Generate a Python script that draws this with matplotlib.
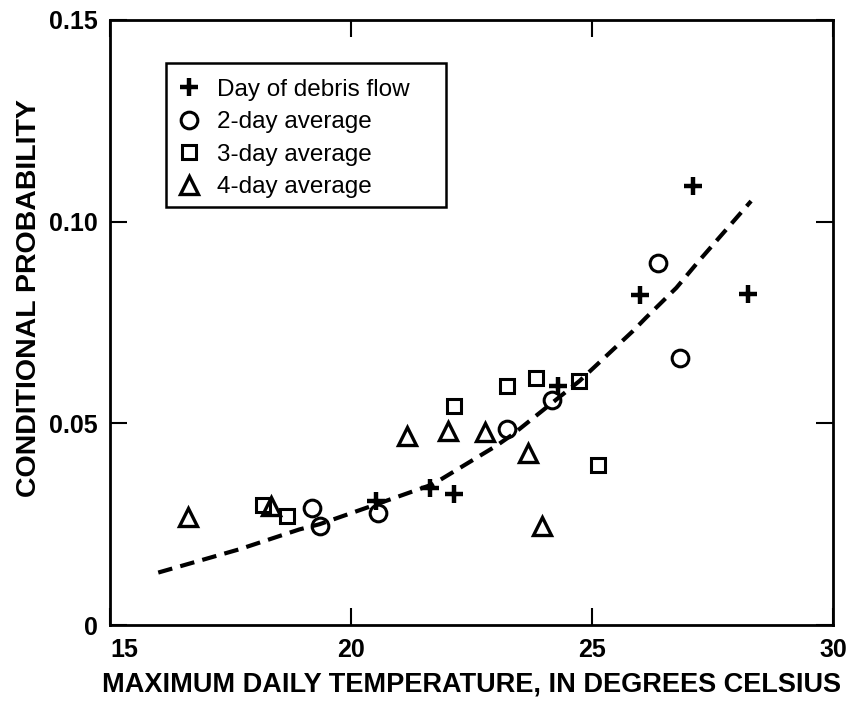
import matplotlib
matplotlib.use('Agg')
import matplotlib.pyplot as plt
from matplotlib.patches import Rectangle

# values
day_x = [20.52, 21.63, 22.13, 24.30, 26.00, 27.09, 28.23]
day_y = [0.0307, 0.0340, 0.0326, 0.0593, 0.0818, 0.1089, 0.0820]

avg2_x = [19.19, 19.36, 20.56, 23.23, 24.17, 26.36, 26.82]
avg2_y = [0.0289, 0.0245, 0.0278, 0.0485, 0.0557, 0.0898, 0.0661]

avg3_x = [18.17, 18.68, 22.14, 23.23, 23.84, 24.74, 25.12]
avg3_y = [0.0298, 0.0270, 0.0544, 0.0593, 0.0612, 0.0605, 0.0397]

avg4_x = [16.61, 18.34, 21.16, 22.02, 22.77, 23.67, 23.97]
avg4_y = [0.0268, 0.0295, 0.0469, 0.0481, 0.0479, 0.0427, 0.0245]

curve_x = [16.00, 17.69, 18.93, 19.35, 20.52, 21.70, 23.01, 23.36, 24.74,
           25.85, 26.12, 26.75, 27.22, 28.30]
curve_y = [0.0130, 0.0188, 0.0237, 0.0250, 0.0299, 0.0349, 0.0444, 0.0473,
           0.0605, 0.0729, 0.0762, 0.0836, 0.0903, 0.1051]

x_ticks = [15, 20, 25, 30]
y_ticks = [0, 0.05, 0.10, 0.15]
y_ticklabels = ['0', '0.05', '0.10', '0.15']

plt.rcParams['font.family'] = ['Liberation Sans', 'DejaVu Sans']

fig = plt.figure(figsize=(8.47, 7.01), dpi=100)
ax = fig.add_axes([0.1299, 0.1084, 0.8536, 0.8631])

ax.plot(curve_x, curve_y, color='black', lw=3, dashes=(3.5, 2.0),
        zorder=1)

ax.plot(day_x, day_y, ls='none', marker='+', ms=13, mew=3.2,
        color='black', label='Day of debris flow')
ax.plot(avg2_x, avg2_y, ls='none', marker='o', ms=12, mew=2.2,
        mfc='none', mec='black', label='2-day average')
ax.plot(avg3_x, avg3_y, ls='none', marker='s', ms=10, mew=2.2,
        mfc='none', mec='black', label='3-day average')
ax.plot(avg4_x, avg4_y, ls='none', marker='^', ms=12.5, mew=2.4,
        mfc='none', mec='black', label='4-day average')

ax.set_xlim(15, 30)
ax.set_ylim(0, 0.15)
ax.set_xticks(x_ticks)
ax.set_yticks(y_ticks)
ax.set_yticklabels(y_ticklabels)

ax.tick_params(direction='in', length=12, width=1.5, top=True, right=True,
               labelsize=18, pad=9)
for lbl in ax.get_xticklabels() + ax.get_yticklabels():
    lbl.set_fontweight('bold')
# first x label sits a little right of its tick, as in the original
ax.get_xticklabels()[0].set_horizontalalignment('left')

for sp in ax.spines.values():
    sp.set_linewidth(2)

ax.set_xlabel('MAXIMUM DAILY TEMPERATURE, IN DEGREES CELSIUS',
              fontsize=19.5, fontweight='bold', labelpad=7)
ax.set_ylabel('CONDITIONAL PROBABILITY', fontsize=20.5, fontweight='bold')
ax.yaxis.set_label_coords(-0.094, 0.54)

# legend frame drawn separately so it keeps the wide right margin
ax.add_patch(Rectangle((0.0775, 0.691), 0.3872, 0.238, transform=ax.transAxes,
                       fill=False, edgecolor='black', lw=1.8, zorder=3))
leg = ax.legend(loc='upper left', bbox_to_anchor=(0.0706, 0.929),
                borderaxespad=0, fontsize=17.5, frameon=False,
                handlelength=1.0, handletextpad=0.65, labelspacing=0.43,
                borderpad=0.66, numpoints=1)

fig.savefig('out.png', dpi=100)
